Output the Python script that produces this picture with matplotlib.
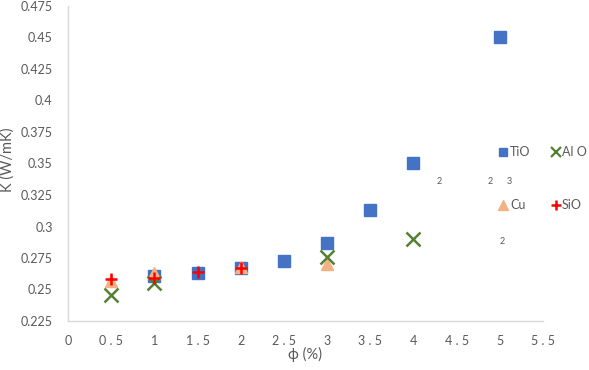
import matplotlib
matplotlib.use("Agg")
import matplotlib.pyplot as plt
from matplotlib.lines import Line2D

plt.rcParams['font.family'] = ['Lato', 'DejaVu Sans']

tio2_x = [1, 1.5, 2, 2.5, 3, 3.5, 4, 5]
tio2_y = [0.261, 0.263, 0.267, 0.273, 0.287, 0.313, 0.350, 0.450]
al2o3_x = [0.5, 1, 3, 4]
al2o3_y = [0.2455, 0.255, 0.2755, 0.290]
cu_x = [0.5, 1, 2, 3]
cu_y = [0.257, 0.263, 0.268, 0.2705]
sio2_x = [0.5, 1, 1.5, 2]
sio2_y = [0.258, 0.259, 0.264, 0.267]

xticks = [0, 0.5, 1, 1.5, 2, 2.5, 3, 3.5, 4, 4.5, 5, 5.5]
xticklabels = ["0", "0 . 5", "1", "1 . 5", "2", "2 . 5", "3", "3 . 5", "4", "4 . 5", "5", "5 . 5"]
yticks = [0.225, 0.25, 0.275, 0.3, 0.325, 0.35, 0.375, 0.4, 0.425, 0.45, 0.475]
yticklabels = ["0.225", "0.25", "0.275", "0.3", "0.325", "0.35", "0.375", "0.4", "0.425", "0.45", "0.475"]

c_tio = "#4472C4"
c_al = "#548235"
c_cu = "#F4B183"
c_si = "#FF0000"
gray = "#595959"

fig = plt.figure(figsize=(5.89, 3.70), dpi=100)
ax = fig.add_axes([68/589, 1 - 321/370, (543-68)/589, (321-6)/370])

ax.plot(tio2_x, tio2_y, ls='none', marker='s', ms=8.5, color=c_tio, zorder=3)
ax.plot(cu_x, cu_y, ls='none', marker='^', ms=8.5, color=c_cu, zorder=4)
ax.plot(al2o3_x, al2o3_y, ls='none', marker='x', ms=9.5, mew=1.8, color=c_al, zorder=5)
ax.plot(sio2_x, sio2_y, ls='none', marker='+', ms=8, mew=1.8, color=c_si, zorder=6)

ax.set_xlim(0, 5.5)
ax.set_ylim(0.225, 0.475)
ax.set_xticks(xticks)
ax.set_xticklabels(xticklabels)
ax.set_yticks(yticks)
ax.set_yticklabels(yticklabels)
ax.tick_params(axis='both', length=0, labelsize=9, labelcolor=gray)
ax.tick_params(axis='x', pad=10)
ax.tick_params(axis='y', pad=11)
for s in ['top', 'right']:
    ax.spines[s].set_visible(False)
for s in ['left', 'bottom']:
    ax.spines[s].set_color('#D9D9D9')
    ax.spines[s].set_linewidth(1.0)

fig.text(8/589, 1 - 160/370, "K (W/mK)", rotation=90, ha='center', va='center', fontsize=10.5, color=gray)
fig.text(305/589, 1 - 354/370, "ϕ (%)", ha='center', va='center', fontsize=10.5, color=gray)

# legend (manual)
def fx(px):
    return px/589
def fy(py):
    return 1 - py/370

entries = [
    (503, 152, 's', c_tio, 6, 0, "TiO", 510),
    (556, 152, 'x', c_al, 6.5, 1.6, "Al O", 562),
    (503, 205, '^', c_cu, 6.5, 0, "Cu", 510),
    (556, 205, '+', c_si, 7, 1.8, "SiO", 562),
]
for mx, my, mk, col, ms, mew, lab, tx in entries:
    fig.add_artist(Line2D([fx(mx)], [fy(my)], marker=mk, color=col, ms=ms,
                          mew=mew if mew else None, ls='none', transform=fig.transFigure))
    fig.text(fx(tx), fy(my), lab, ha='left', va='center', fontsize=9, color=gray)

for tx, ty, s in [(439, 181, "2"), (490, 181, "2"), (509, 181, "3"), (502, 242, "2")]:
    fig.text(fx(tx), fy(ty), s, ha='center', va='center', fontsize=6.5, color=gray)

fig.savefig("out.png", dpi=100, facecolor='white')
